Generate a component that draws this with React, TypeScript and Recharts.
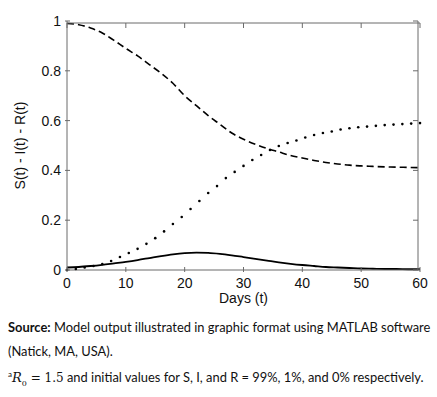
import { ComposedChart, Line, XAxis, YAxis } from 'recharts';

// S and I curves, read every 2 days
const days = [0, 2, 4, 6, 8, 10, 12, 14, 16, 18, 20, 22, 24, 26, 28, 30, 32, 34, 36, 38, 40, 42, 44, 46, 48, 50, 52, 54, 56, 58, 60];
const susceptible = [0.99, 0.985, 0.972, 0.952, 0.922, 0.89, 0.86, 0.825, 0.79, 0.75, 0.70, 0.66, 0.62, 0.585, 0.55, 0.525, 0.505, 0.488, 0.474, 0.46, 0.45, 0.44, 0.432, 0.426, 0.421, 0.418, 0.416, 0.414, 0.413, 0.412, 0.411];
const infected = [0.01, 0.012, 0.016, 0.021, 0.027, 0.033, 0.04, 0.048, 0.056, 0.063, 0.068, 0.07, 0.069, 0.065, 0.059, 0.052, 0.045, 0.038, 0.031, 0.025, 0.02, 0.016, 0.012, 0.01, 0.008, 0.006, 0.005, 0.004, 0.004, 0.003, 0.003];

// R is drawn as dots, solver steps of about 1.5 days
const recoveredDays = [0, 1.5, 3, 4.5, 6, 7.5, 9, 10.5, 12, 13.5, 15, 16.5, 18, 19.5, 21, 22.5, 24, 25.5, 27, 28.5, 30, 31.5, 33, 34.5, 36, 37.5, 39, 40.5, 42, 43.5, 45, 46.5, 48, 49.5, 51, 52.5, 54, 55.5, 57, 58.5, 60];
const recovered = [0, 0.004, 0.01, 0.016, 0.024, 0.036, 0.052, 0.068, 0.085, 0.105, 0.128, 0.155, 0.185, 0.213, 0.245, 0.277, 0.309, 0.337, 0.369, 0.394, 0.418, 0.442, 0.462, 0.482, 0.498, 0.51, 0.52, 0.532, 0.542, 0.55, 0.556, 0.564, 0.569, 0.573, 0.576, 0.579, 0.582, 0.584, 0.586, 0.588, 0.59];

const xTicks = [0, 10, 20, 30, 40, 50, 60];
const yTicks = [0, 0.2, 0.4, 0.6, 0.8, 1];

const sirRows = days.map((t, i) => ({ t, S: susceptible[i], I: infected[i] }));
const rRows = recoveredDays.map((t, i) => ({ t, R: recovered[i] }));

const W = 437;
const H = 310;
const margin = { top: 21, right: 17, bottom: 10, left: 0 };
const yAxisWidth = 67;
const xAxisHeight = 30;
// plot box size, used for the MATLAB box (top/right edges and their inward ticks)
const plotW = W - margin.left - margin.right - yAxisWidth;
const plotH = H - margin.top - margin.bottom - xAxisHeight;

const axisColor = '#6b6b6b';
const tickFont = { fontFamily: 'Liberation Sans, Arial, sans-serif', fontSize: 14, fill: '#111' };

function BottomTick({ x, y, payload, index }: any) {
  return (
    <g>
      {index === 0 && <line x1={x} y1={y - plotH} x2={x + plotW} y2={y - plotH} stroke={axisColor} />}
      <line x1={x} y1={y} x2={x} y2={y - 5} stroke={axisColor} />
      <line x1={x} y1={y - plotH} x2={x} y2={y - plotH + 5} stroke={axisColor} />
      <text x={x} y={y + 16} textAnchor="middle" {...tickFont}>{payload.value}</text>
    </g>
  );
}

function LeftTick({ x, y, payload, index }: any) {
  return (
    <g>
      {index === 0 && <line x1={x + plotW} y1={y} x2={x + plotW} y2={y - plotH} stroke={axisColor} />}
      <line x1={x} y1={y} x2={x + 5} y2={y} stroke={axisColor} />
      <line x1={x + plotW} y1={y} x2={x + plotW - 5} y2={y} stroke={axisColor} />
      <text x={x - 4} y={y + 5} textAnchor="end" {...tickFont}>{payload.value}</text>
    </g>
  );
}

export default function App() {
  const caption = { fontFamily: 'Lato, "Open Sans", sans-serif', fontSize: 12.9, color: '#111', margin: 0 };
  return (
    <div style={{ position: 'absolute', left: 0, top: 0, width: 437, height: 397, background: '#fff' }}>
      <ComposedChart width={W} height={H} margin={margin}>
        <XAxis
          dataKey="t"
          type="number"
          domain={[0, 60]}
          ticks={xTicks}
          allowDuplicatedCategory={false}
          height={xAxisHeight}
          tickSize={0}
          tickLine={false}
          axisLine={{ stroke: axisColor }}
          tick={<BottomTick />}
          label={{ value: 'Days (t)', position: 'insideBottom', offset: -3, style: { ...tickFont } }}
        />
        <YAxis
          type="number"
          domain={[0, 1]}
          ticks={yTicks}
          width={yAxisWidth}
          tickSize={0}
          tickLine={false}
          axisLine={{ stroke: axisColor }}
          tick={<LeftTick />}
          label={{ value: 'S(t) - I(t) - R(t)', angle: -90, position: 'insideLeft', offset: 20, style: { ...tickFont, textAnchor: 'middle' } }}
        />
        <Line data={sirRows} dataKey="S" type="monotone" stroke="#000" strokeWidth={1.6} strokeDasharray="7 4" dot={false} isAnimationActive={false} />
        <Line data={sirRows} dataKey="I" type="monotone" stroke="#000" strokeWidth={1.8} dot={false} isAnimationActive={false} />
        <Line
          data={rRows}
          dataKey="R"
          stroke="none"
          dot={{ r: 1.3, fill: '#000', stroke: 'none' }}
          isAnimationActive={false}
        />
      </ComposedChart>
      <div style={{ position: 'absolute', left: 8, top: 316, lineHeight: '23.5px' }}>
        <p style={caption}><b>Source:</b> Model output illustrated in graphic format using MATLAB software</p>
        <p style={caption}>(Natick, MA, USA).</p>
        <p style={caption}>
          <sup style={{ fontSize: 8 }}>a</sup>
          <span style={{ fontFamily: '"DejaVu Serif", serif', fontStyle: 'italic', fontSize: 13 }}>R</span>
          <sub style={{ fontFamily: '"DejaVu Serif", serif', fontSize: 8 }}>0</sub>
          <span style={{ fontFamily: '"DejaVu Serif", serif', fontSize: 12 }}> = 1.5</span> and initial values for S, I, and R = 99%, 1%, and 0% respectively.
        </p>
      </div>
    </div>
  );
}
